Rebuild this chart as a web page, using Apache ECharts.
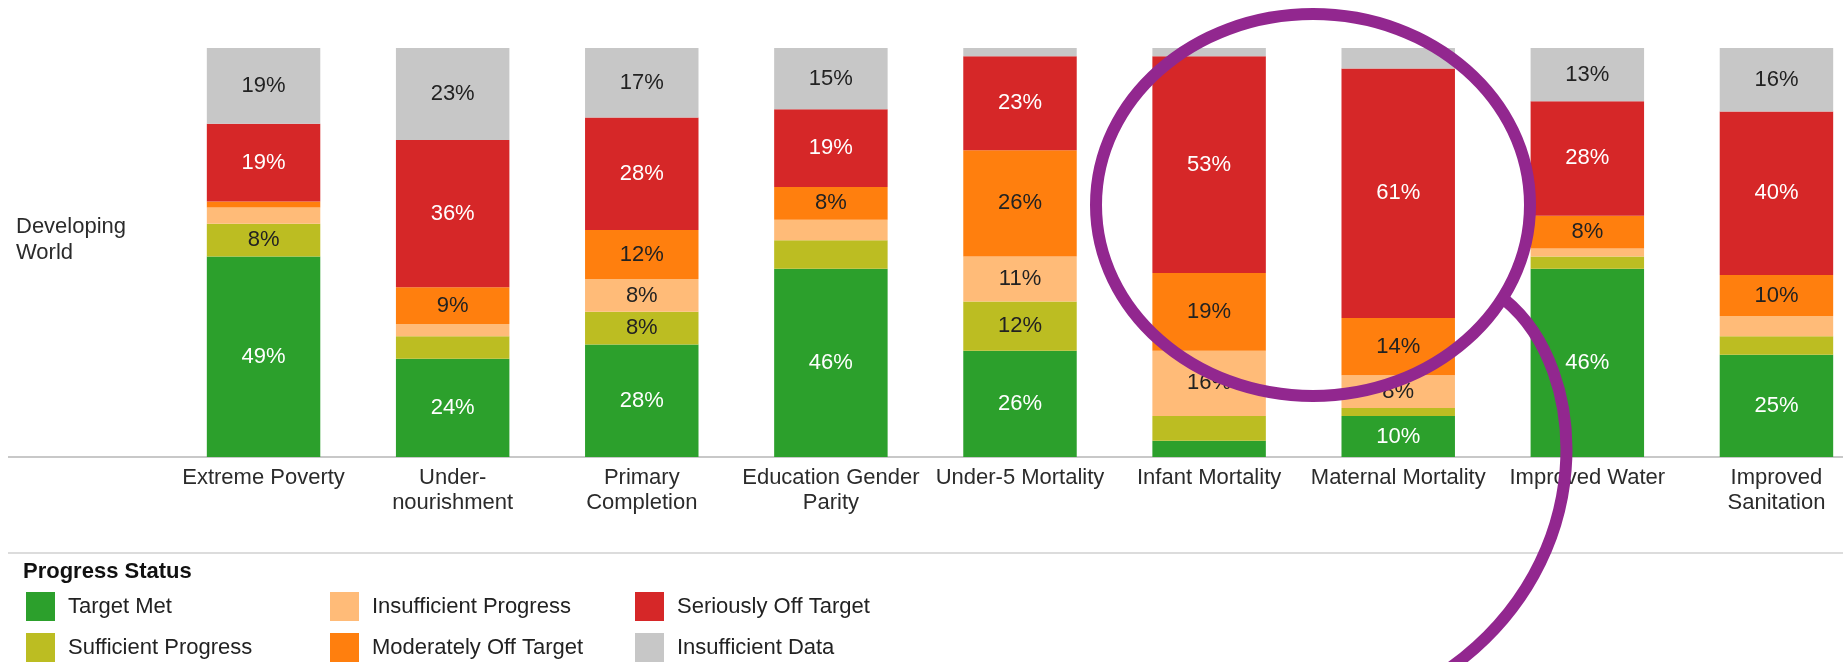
<!DOCTYPE html>
<html>
<head>
<meta charset="utf-8">
<title>Developing World progress status</title>
<script src="https://cdn.jsdelivr.net/npm/echarts@6/dist/echarts.min.js"></script>
<style>
    html, body { margin: 0; padding: 0; background: #fff; }
    #progressChart { width: 1843px; height: 662px; }
</style>
</head>
<body>
<div id="progressChart"></div>
<script>
// categories (x axis), \n where the label wraps
let categories = ['Extreme Poverty', 'Under-\nnourishment', 'Primary\nCompletion', 'Education Gender\nParity',
    'Under-5 Mortality', 'Infant Mortality', 'Maternal Mortality', 'Improved Water', 'Improved\nSanitation'];

// shares in %, bottom of the stack first
let targetMet = [49, 24, 27.5, 46, 26, 4, 10, 46, 25];
let sufficientProgress = [8, 5.5, 8, 7, 12, 6, 2, 3, 4.5];
let insufficientProgress = [4, 3, 8, 5, 11, 16, 8, 2, 5];
let moderatelyOff = [1.5, 9, 12, 8, 26, 19, 14, 8, 10];
let seriouslyOff = [19, 36, 27.5, 19, 23, 53, 61, 28, 40];
let insufficientData = [18.5, 22.5, 17, 15, 2, 2, 5, 13, 15.5];

let font = 'Liberation Sans, Arial, sans-serif';
let c_axis = '#c8c8c8';
let c_purple = '#92278f';

let Page = {
    init() {
        this.charts = {};
        this.progressChart();
        window.addEventListener('resize', () => {
            Object.keys(this.charts).forEach(k => this.charts[k].resize());
        });
    },
    // 进度状态堆叠柱状图
    progressChart() {
        let chart = echarts.init(document.getElementById('progressChart'));
        this.charts.progressChart = chart;

        let seri_bar = {
            type: 'bar',
            stack: 'status',
            barCategoryGap: '40%',
            animation: false,
            label: {
                show: true,
                position: 'inside',
                fontFamily: font,
                fontSize: 22,
                formatter: p => p.value >= 7.5 ? Math.round(p.value) + '%' : ''
            }
        };
        let legendBase = {
            orient: 'horizontal',
            padding: 0,
            icon: 'rect',
            itemWidth: 29,
            itemHeight: 29,
            selectedMode: false,
            textStyle: {
                fontFamily: font,
                fontSize: 22,
                color: '#222',
                padding: [0, 0, 0, 8]
            }
        };
        // 图例位置：三列两行
        let legendPos = [
            ['Target Met', 26, 592], ['Sufficient Progress', 26, 633],
            ['Insufficient Progress', 330, 592], ['Moderately Off Target', 330, 633],
            ['Seriously Off Target', 635, 592], ['Insufficient Data', 635, 633]
        ];

        chart.setOption({
            backgroundColor: '#fff',
            grid: {
                left: 169,
                top: 48,
                width: 1702,
                height: 409,
                outerBoundsMode: 'none'
            },
            xAxis: {
                type: 'category',
                data: categories,
                axisLine: { lineStyle: { color: c_axis, width: 2 } },
                axisTick: { length: 6, lineStyle: { color: '#b0b0b0', width: 2 } },
                axisLabel: {
                    interval: 0,
                    margin: 8,
                    fontFamily: font,
                    fontSize: 22,
                    lineHeight: 25,
                    color: '#2b2b2b'
                }
            },
            yAxis: {
                type: 'value',
                min: 0,
                max: 100,
                show: false
            },
            legend: legendPos.map(p => $extend(legendBase, { left: p[1], top: p[2], data: [p[0]] })),
            series: [
                { name: 'Target Met', data: targetMet, color: '#2ca02c', labelColor: '#fff' },
                { name: 'Sufficient Progress', data: sufficientProgress, color: '#bcbd22', labelColor: '#222' },
                { name: 'Insufficient Progress', data: insufficientProgress, color: '#ffbb78', labelColor: '#222' },
                { name: 'Moderately Off Target', data: moderatelyOff, color: '#ff7f0e', labelColor: '#222' },
                { name: 'Seriously Off Target', data: seriouslyOff, color: '#d62728', labelColor: '#fff' },
                { name: 'Insufficient Data', data: insufficientData, color: '#c7c7c7', labelColor: '#222' }
            ].map(item => {
                let s = $extend(seri_bar, {
                    name: item.name,
                    data: item.data,
                    itemStyle: { color: item.color }
                });
                s.label = $extend(seri_bar.label, { color: item.labelColor });
                return s;
            }),
            graphic: [
                // 左侧行标题
                {
                    type: 'text', left: 16, top: 214,
                    style: { text: 'Developing\nWorld', font: '22px ' + font, fill: '#2b2b2b', lineHeight: 26 }
                },
                // 轴线向左延伸
                {
                    type: 'line', shape: { x1: 8, y1: 457, x2: 169, y2: 457 },
                    style: { stroke: c_axis, lineWidth: 2 }
                },
                // 图例上方分隔线
                {
                    type: 'line', shape: { x1: 8, y1: 553, x2: 1843, y2: 553 },
                    style: { stroke: '#dcdcdc', lineWidth: 2 }
                },
                {
                    type: 'text', left: 23, top: 561,
                    style: { text: 'Progress Status', font: 'bold 22px ' + font, fill: '#111' }
                },
                // 紫色标注圈
                {
                    type: 'ellipse', z: 100,
                    shape: { cx: 1313, cy: 205, rx: 217, ry: 191 },
                    style: { fill: 'none', stroke: c_purple, lineWidth: 12 }
                },
                {
                    type: 'bezierCurve', z: 100,
                    shape: { x1: 1505, y1: 300, cpx1: 1590, cpy1: 370, cpx2: 1600, cpy2: 560, x2: 1450, y2: 668 },
                    style: { fill: 'none', stroke: c_purple, lineWidth: 12 }
                }
            ]
        });
    }
};

function $extend(base, extra) {
    return Object.assign({}, base, extra);
}

Page.init();
</script>
</body>
</html>
